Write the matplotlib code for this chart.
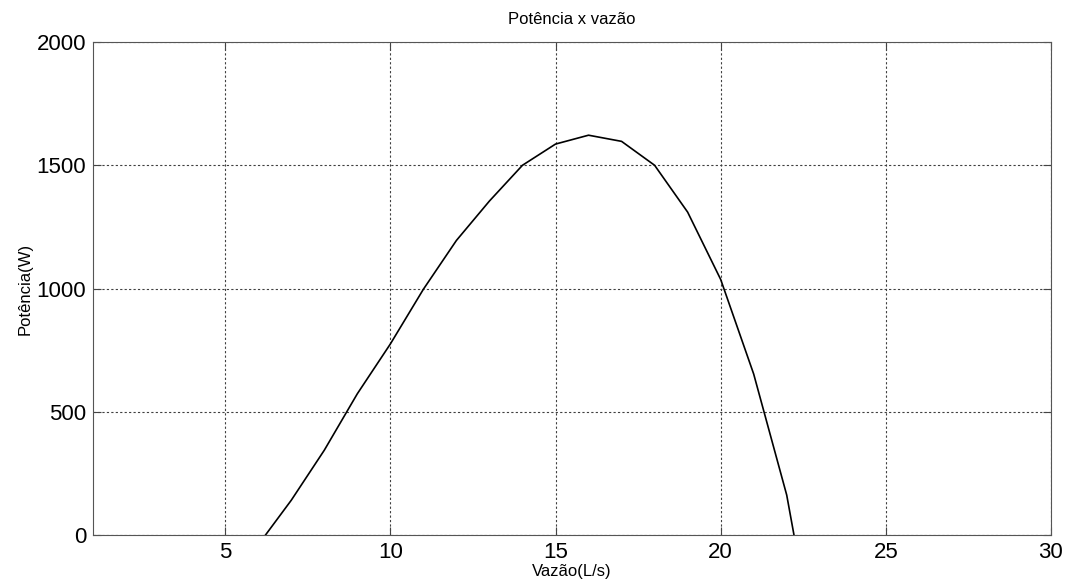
import matplotlib.pyplot as plt

plt.rcParams['font.family'] = ['Liberation Sans', 'DejaVu Sans']

# vazão (L/s) e potência (W)
vazao = [6.22, 7, 8, 9, 10, 11, 12, 13, 14, 15, 16, 17, 18, 19, 20, 21, 22, 22.22]
potencia = [0, 141, 344, 573, 775, 997, 1195, 1355, 1500, 1586, 1622, 1597, 1500, 1310, 1037, 653, 162, 0]

xticks = [5, 10, 15, 20, 25, 30]
yticks = [0, 500, 1000, 1500, 2000]

fig = plt.figure(figsize=(10.7, 5.87), dpi=100)
ax = fig.add_axes([0.087, 0.0886, 0.8952, 0.8398])

ax.plot(vazao, potencia, color='black', lw=1.2)

ax.set_xlim(1, 30)
ax.set_ylim(0, 2000)
ax.set_xticks(xticks)
ax.set_yticks(yticks)
ax.grid(True, linestyle=(0, (2, 2)), color='#404040', lw=0.8)
ax.tick_params(direction='in', top=True, right=True, labelsize=16, length=6,
               color='#444444', pad=5)
for s in ax.spines.values():
    s.set_color('#555555')

ax.set_title('Potência x vazão', fontsize=12, pad=13)
ax.set_xlabel('Vazão(L/s)', fontsize=12, labelpad=1)
ax.set_ylabel('Potência(W)', fontsize=12, labelpad=3)

fig.savefig('out.png', dpi=100)
